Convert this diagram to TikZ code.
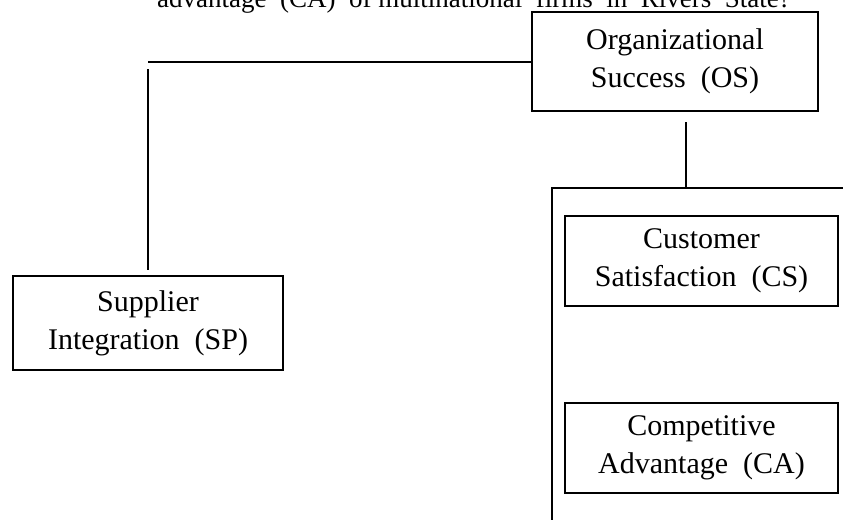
\documentclass[tikz,border=0pt]{standalone}
\usepackage{fontspec}
\setmainfont{Liberation Serif}
\usepackage{tikz}
\usetikzlibrary{positioning}
\tikzset{box/.style = {draw, line width=1.6pt, align=center, inner sep=0pt,
                       font=\fontsize{30}{38}\selectfont}}
\tikzset{link/.style = {line width=1.2pt}}

\begin{document}
\begin{tikzpicture}[x=1pt, y=-1pt]
    \clip (0, 0) rectangle (843, 520);

    \node [anchor=base, font=\fontsize{27}{37}\selectfont] (head) at (474, 7)
        {advantage\ \ (CA)\ \ of\ multinational\ \ firms\ \ in\ \ Rivers\ \ State?};

    \node [box, minimum width=286pt, minimum height=99pt] (os) at (675, 61.5)
        {Organizational\\Success\ \ (OS)};
    \node [box, minimum width=270pt, minimum height=94pt] (sp) at (148, 323)
        {Supplier\\Integration\ \ (SP)};
    \node [box, minimum width=273pt, minimum height=90pt] (cs) at (701.5, 261)
        {Customer\\Satisfaction\ \ (CS)};
    \node [box, minimum width=273pt, minimum height=90pt] (ca) at (701.5, 448)
        {Competitive\\Advantage\ \ (CA)};

    \coordinate (spCorner) at (148, 62);
    \coordinate (spTop) at (148, 69);
    \coordinate (osTop) at (686, 122);
    \coordinate (osFoot) at (686, 188);
    \coordinate (barLeft) at (552, 188);
    \coordinate (barRight) at (843, 188);
    \coordinate (barFoot) at (552, 520);

    \draw [link] (os.west |- spCorner) -- (spCorner);
    \draw [link] (spTop) -- ([yshift=5pt]sp.north);
    \draw [link] (osTop) -- (osFoot);
    \draw [link] (barRight) -- (barLeft) -- (barFoot);
  \end{tikzpicture}
\end{document}
